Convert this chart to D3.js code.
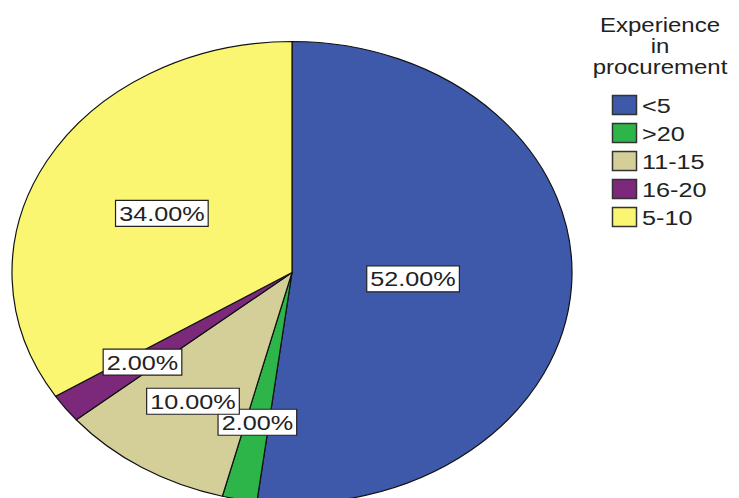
<!DOCTYPE html>
<html>
<head>
<meta charset="utf-8">
<script src="https://cdn.jsdelivr.net/npm/d3@7"></script>
<style>
  html, body { margin: 0; padding: 0; background: #fff; }
  svg { display: block; }
  text { font-family: "Liberation Sans", Arial, sans-serif; fill: #222; }
</style>
</head>
<body>
<svg id="chart" width="739" height="498"></svg>
<script>
// Experience in procurement (years), share of respondents in percent
const categories = ["<5", ">20", "11-15", "16-20", "5-10"];
const percents = [52, 2, 10, 2, 34];
const colors = ["#3e58aa", "#2eb54a", "#d4ce99", "#7c297c", "#faf672"];
const legendTitle = ["Experience", "in", "procurement"];

const W = 739, H = 498;
const cx = 292, cy = 272.5;
const r = 231;            // vertical radius
const sx = 280 / 231;     // horizontal stretch of the pie
const textSx = 1.2;       // horizontal stretch of the lettering

const svg = d3.select("#chart");

const data = categories.map((c, i) => ({ cat: c, value: percents[i] }));
const color = d3.scaleOrdinal().domain(categories).range(colors);

const pie = d3.pie().value(d => d.value).sort(null);
const arcs = pie(data);
const total = d3.sum(percents);

const arc = d3.arc().innerRadius(0).outerRadius(r);

// slices
const pieG = svg.append("g")
  .attr("transform", `translate(${cx},${cy}) scale(${sx},1)`);

pieG.selectAll("path")
  .data(arcs)
  .join("path")
  .attr("d", arc)
  .attr("fill", d => color(d.data.cat))
  .attr("stroke", "#111")
  .attr("stroke-width", 1.2)
  .attr("vector-effect", "non-scaling-stroke")
  .attr("stroke-linejoin", "round");

// value labels: large slices sit nearer the centre
const fmt = d3.format(".2f");
const labelG = svg.append("g");
arcs.forEach(d => {
  const share = d.value / total;
  const frac = Math.min(0.66, 0.66 - 0.54 * (share - 0.1));
  const la = d3.arc().innerRadius(r * frac).outerRadius(r * frac);
  const [px, py] = la.centroid(d);
  const x = cx + px * sx, y = cy + py;
  const g = labelG.append("g")
    .attr("transform", `translate(${x},${y}) scale(${textSx},1)`);
  const rect = g.append("rect");
  const t = g.append("text")
    .attr("text-anchor", "middle")
    .attr("y", 7.5)
    .style("font-size", "21px")
    .text(fmt(d.value * 100 / total) + "%");
  const w = t.node().getComputedTextLength() + 6;
  rect.attr("x", -w / 2).attr("y", -13).attr("width", w).attr("height", 26)
    .attr("fill", "#fff").attr("stroke", "#222").attr("stroke-width", 1.2)
    .attr("vector-effect", "non-scaling-stroke");
});

// legend
const lg = svg.append("g");
const titleX = 660;
const titleY = [32, 53, 74];
legendTitle.forEach((s, i) => {
  lg.append("text")
    .attr("transform", `translate(${titleX},${titleY[i]}) scale(${textSx},1)`)
    .attr("text-anchor", "middle")
    .style("font-size", "20px")
    .text(s);
});

const row = d3.scaleBand().domain(categories).range([91, 231]);
const items = lg.selectAll("g.item")
  .data(categories)
  .join("g")
  .attr("class", "item")
  .attr("transform", d => `translate(612,${row(d) + row.bandwidth() / 2})`);

items.append("rect")
  .attr("x", 0.5).attr("y", -9.5)
  .attr("width", 24).attr("height", 19)
  .attr("fill", d => color(d))
  .attr("stroke", "#333").attr("stroke-width", 1.5);

items.append("text")
  .attr("transform", `translate(30,7.5) scale(${textSx},1)`)
  .style("font-size", "21px")
  .text(d => d);
</script>
</body>
</html>
